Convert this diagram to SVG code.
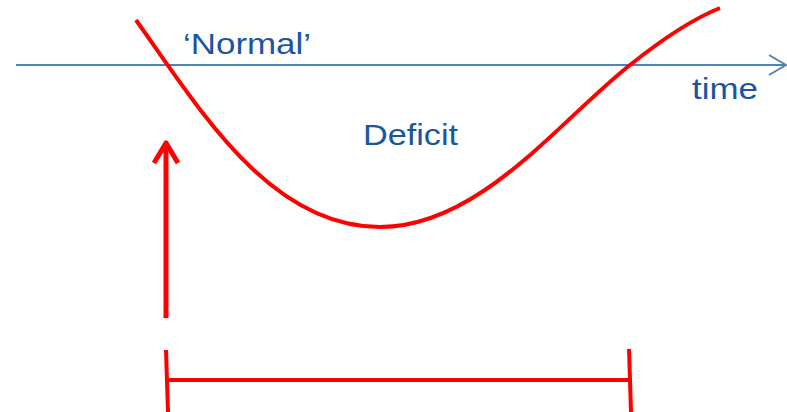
<svg xmlns="http://www.w3.org/2000/svg" width="787" height="412" viewBox="0 0 787 412">
<style>
.lbl{font-family:"Liberation Sans",Arial,sans-serif;font-size:29px;fill:#1a56a0}
.red{fill:none;stroke:#ff0000;stroke-linecap:butt}
.axis{fill:none;stroke:#4f81bd;stroke-width:2}
</style>
<rect width="787" height="412" fill="#ffffff"/>
<g id="axis">
<line class="axis" x1="16" y1="65" x2="785" y2="65"/>
<polyline class="axis" points="769,55 786,65 769,75"/>
<text class="lbl" x="692" y="99" textLength="66" lengthAdjust="spacingAndGlyphs">time</text>
</g>
<g id="curve">
<path class="red" stroke-width="4" d="M136,20 C200,110 270,227 380,227 C480,227 560,120 630,65 C670,33 700,16 720,8"/>
</g>
<g id="labels">
<text class="lbl" x="183" y="54" textLength="128" lengthAdjust="spacingAndGlyphs">‘Normal’</text>
<text class="lbl" x="363" y="145" textLength="95" lengthAdjust="spacingAndGlyphs">Deficit</text>
</g>
<g id="connectors">
<line class="red" stroke-width="5" x1="166" y1="318" x2="166" y2="145"/>
<polyline class="red" stroke-width="5" stroke-linejoin="round" stroke-linecap="round" points="154,163 166,143 178,163"/>
<line class="red" stroke-width="4" x1="166" y1="350" x2="168" y2="412"/>
<line class="red" stroke-width="4" x1="167" y1="380" x2="629" y2="380"/>
<line class="red" stroke-width="4" x1="629" y1="349" x2="631" y2="412"/>
</g>
</svg>
